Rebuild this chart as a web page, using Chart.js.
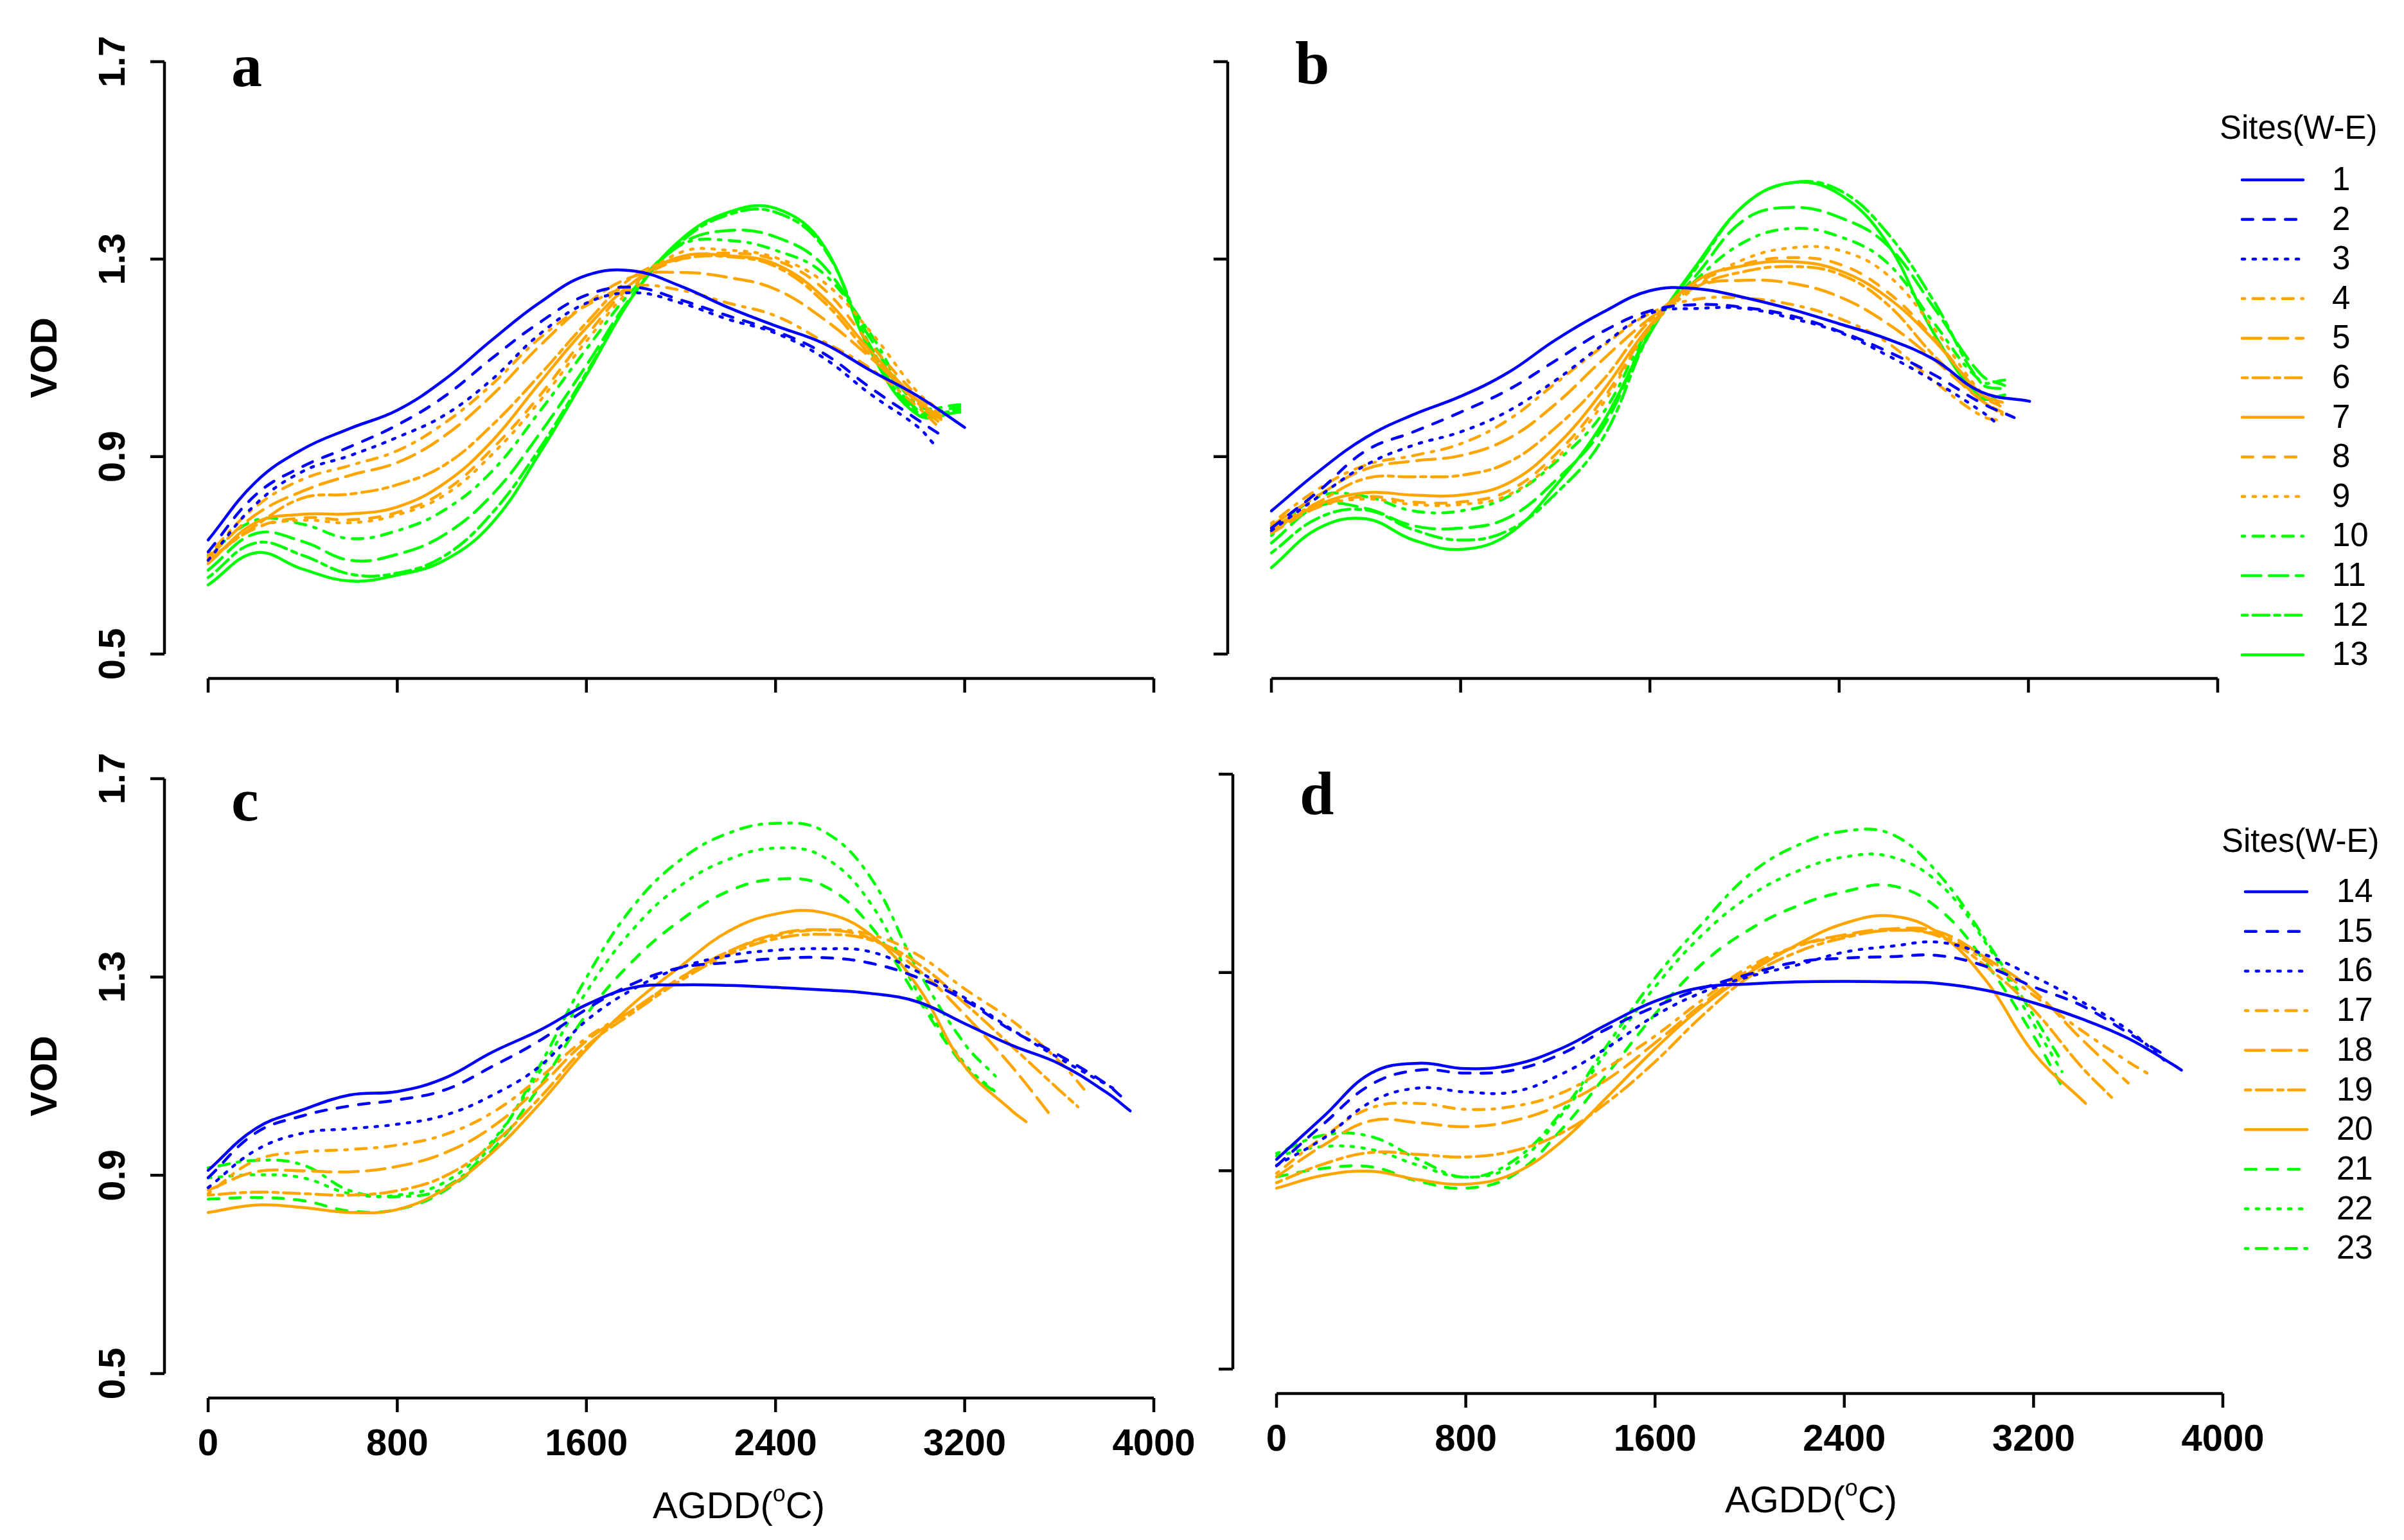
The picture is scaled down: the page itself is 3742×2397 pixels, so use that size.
<!DOCTYPE html>
<html>
<head>
<meta charset="utf-8">
<script src="https://cdn.jsdelivr.net/npm/chart.js@4.4.1/dist/chart.umd.min.js"></script>
<style>
  body { margin: 0; background: #fff; width: 3742px; height: 2397px; position: relative; overflow: hidden; }
  canvas { position: absolute; }
</style>
</head>
<body>
<canvas id="chart-a" width="1871" height="1130" style="left:0;top:0"></canvas>
<canvas id="chart-b" width="1871" height="1130" style="left:1871px;top:0"></canvas>
<canvas id="chart-c" width="1871" height="1267" style="left:0;top:1130px"></canvas>
<canvas id="chart-d" width="1871" height="1267" style="left:1871px;top:1130px"></canvas>
<script>
// AGDD sample points (every 200), the last value of each site sits at its own end AGDD
const agddGrid = [0, 200, 400, 600, 800, 1000, 1200, 1400, 1600, 1800, 2000, 2200, 2400, 2600, 2800, 3000, 3200, 3400, 3600, 3800]
const xTicks = [0, 800, 1600, 2400, 3200, 4000]
const yTicks = [0.5, 0.9, 1.3, 1.7]

const sitesAB = ['1', '2', '3', '4', '5', '6', '7', '8', '9', '10', '11', '12', '13']
const sitesCD = ['14', '15', '16', '17', '18', '19', '20', '21', '22', '23']

// panel a, sites 1-13
const vodA = [
	[0.731, 0.848, 0.915, 0.957, 0.994, 1.056, 1.136, 1.211, 1.267, 1.276, 1.245, 1.202, 1.165, 1.130, 1.075, 1.023, 0.959],
	[0.707, 0.822, 0.880, 0.920, 0.964, 1.022, 1.099, 1.171, 1.227, 1.243, 1.217, 1.185, 1.154, 1.110, 1.040, 0.975, 0.945],
	[0.690, 0.803, 0.870, 0.902, 0.939, 0.984, 1.056, 1.147, 1.211, 1.232, 1.211, 1.178, 1.150, 1.101, 1.027, 0.961, 0.928],
	[0.702, 0.798, 0.854, 0.882, 0.912, 0.968, 1.046, 1.139, 1.206, 1.245, 1.237, 1.211, 1.185, 1.134, 1.079, 1.001, 0.955],
	[0.696, 0.782, 0.830, 0.862, 0.888, 0.942, 1.024, 1.123, 1.209, 1.265, 1.273, 1.263, 1.239, 1.180, 1.101, 1.014, 0.975],
	[0.691, 0.760, 0.816, 0.824, 0.843, 0.883, 0.963, 1.064, 1.171, 1.265, 1.300, 1.305, 1.285, 1.215, 1.106, 1.009, 0.966],
	[0.683, 0.766, 0.783, 0.784, 0.798, 0.846, 0.931, 1.048, 1.161, 1.254, 1.305, 1.307, 1.290, 1.224, 1.115, 1.014, 0.979],
	[0.691, 0.755, 0.776, 0.772, 0.787, 0.830, 0.915, 1.022, 1.145, 1.250, 1.300, 1.312, 1.298, 1.241, 1.128, 1.023, 0.983],
	[0.688, 0.755, 0.771, 0.766, 0.782, 0.822, 0.904, 1.011, 1.134, 1.245, 1.314, 1.318, 1.303, 1.255, 1.154, 1.031, 0.992],
	[0.700, 0.771, 0.763, 0.734, 0.750, 0.792, 0.870, 0.990, 1.118, 1.240, 1.329, 1.338, 1.318, 1.272, 1.150, 1.005, 1.005],
	[0.670, 0.744, 0.728, 0.690, 0.702, 0.742, 0.822, 0.945, 1.085, 1.230, 1.330, 1.358, 1.345, 1.288, 1.140, 0.995, 1.000],
	[0.655, 0.725, 0.700, 0.662, 0.664, 0.699, 0.785, 0.915, 1.070, 1.228, 1.335, 1.390, 1.395, 1.325, 1.125, 0.990, 0.995],
	[0.640, 0.705, 0.672, 0.648, 0.660, 0.690, 0.765, 0.905, 1.065, 1.228, 1.340, 1.395, 1.403, 1.330, 1.115, 0.985, 0.990],
]
const endsA = [3200, 3095, 3065, 3100, 3100, 3100, 3100, 3100, 3100, 3180, 3180, 3180, 3180]

// panel b, sites 1-13
const vodB = [
	[0.790, 0.870, 0.939, 0.985, 1.022, 1.070, 1.136, 1.192, 1.236, 1.240, 1.222, 1.198, 1.169, 1.139, 1.097, 1.031, 1.012],
	[0.755, 0.830, 0.912, 0.950, 0.990, 1.035, 1.094, 1.153, 1.195, 1.208, 1.202, 1.185, 1.154, 1.114, 1.066, 1.009, 0.979],
	[0.750, 0.819, 0.883, 0.923, 0.950, 0.992, 1.054, 1.126, 1.190, 1.200, 1.200, 1.180, 1.152, 1.106, 1.053, 0.992, 0.962],
	[0.765, 0.835, 0.883, 0.902, 0.926, 0.974, 1.048, 1.123, 1.190, 1.219, 1.221, 1.208, 1.180, 1.132, 1.053, 0.983, 0.972],
	[0.760, 0.822, 0.875, 0.891, 0.902, 0.936, 1.006, 1.096, 1.180, 1.245, 1.257, 1.251, 1.224, 1.171, 1.097, 1.014, 0.990],
	[0.755, 0.808, 0.856, 0.859, 0.862, 0.888, 0.958, 1.054, 1.175, 1.245, 1.275, 1.285, 1.270, 1.210, 1.105, 1.015, 0.985],
	[0.750, 0.803, 0.827, 0.822, 0.822, 0.846, 0.920, 1.032, 1.165, 1.257, 1.287, 1.295, 1.277, 1.224, 1.136, 1.027, 1.010],
	[0.745, 0.798, 0.819, 0.808, 0.808, 0.830, 0.904, 1.016, 1.160, 1.250, 1.290, 1.303, 1.290, 1.235, 1.140, 1.025, 1.000],
	[0.745, 0.798, 0.814, 0.803, 0.803, 0.822, 0.894, 1.006, 1.160, 1.245, 1.300, 1.323, 1.318, 1.270, 1.160, 1.030, 1.005],
	[0.740, 0.819, 0.819, 0.790, 0.790, 0.819, 0.888, 0.987, 1.160, 1.260, 1.335, 1.362, 1.346, 1.294, 1.171, 1.053, 1.055],
	[0.725, 0.800, 0.795, 0.760, 0.755, 0.776, 0.851, 0.958, 1.155, 1.270, 1.380, 1.405, 1.385, 1.330, 1.202, 1.066, 1.044],
	[0.705, 0.776, 0.792, 0.752, 0.731, 0.750, 0.824, 0.936, 1.150, 1.285, 1.410, 1.455, 1.440, 1.355, 1.215, 1.049, 1.036],
	[0.675, 0.755, 0.774, 0.731, 0.712, 0.742, 0.840, 0.968, 1.150, 1.290, 1.410, 1.455, 1.432, 1.335, 1.150, 1.020, 1.025],
]
const endsB = [3205, 3140, 3080, 3090, 3090, 3090, 3090, 3090, 3090, 3100, 3100, 3100, 3100]

// panel c, sites 14-23
const vodC = [
	[0.910, 0.994, 1.032, 1.062, 1.069, 1.096, 1.148, 1.192, 1.244, 1.279, 1.284, 1.283, 1.279, 1.274, 1.267, 1.250, 1.206, 1.162, 1.125, 1.067, 1.030],
	[0.895, 0.985, 1.020, 1.040, 1.052, 1.072, 1.119, 1.171, 1.235, 1.287, 1.319, 1.329, 1.337, 1.339, 1.328, 1.299, 1.253, 1.192, 1.142, 1.084, 1.060],
	[0.875, 0.950, 0.985, 0.994, 1.003, 1.021, 1.061, 1.119, 1.212, 1.276, 1.319, 1.343, 1.354, 1.357, 1.351, 1.311, 1.258, 1.194, 1.136, 1.075],
	[0.863, 0.930, 0.947, 0.952, 0.961, 0.982, 1.026, 1.096, 1.177, 1.235, 1.299, 1.351, 1.383, 1.395, 1.386, 1.345, 1.276, 1.212, 1.130, 1.065],
	[0.870, 0.907, 0.909, 0.907, 0.918, 0.945, 0.997, 1.078, 1.171, 1.235, 1.299, 1.351, 1.386, 1.395, 1.378, 1.316, 1.224, 1.119, 1.020],
	[0.860, 0.866, 0.863, 0.860, 0.869, 0.898, 0.962, 1.055, 1.160, 1.229, 1.293, 1.345, 1.377, 1.386, 1.375, 1.328, 1.247, 1.160, 1.072, 1.038],
	[0.825, 0.840, 0.835, 0.825, 0.831, 0.872, 0.945, 1.043, 1.154, 1.247, 1.322, 1.392, 1.427, 1.430, 1.386, 1.282, 1.120, 1.030, 1.008],
	[0.852, 0.855, 0.849, 0.828, 0.831, 0.869, 0.950, 1.078, 1.224, 1.334, 1.415, 1.473, 1.497, 1.485, 1.404, 1.258, 1.119, 1.060],
	[0.895, 0.901, 0.895, 0.863, 0.860, 0.886, 0.968, 1.107, 1.270, 1.398, 1.485, 1.537, 1.560, 1.543, 1.450, 1.270, 1.125, 1.068],
	[0.915, 0.930, 0.921, 0.869, 0.857, 0.875, 0.962, 1.119, 1.299, 1.444, 1.537, 1.590, 1.610, 1.595, 1.502, 1.316, 1.165, 1.100],
]
const endsC = [3900, 3860, 3830, 3720, 3565, 3680, 3460, 3350, 3330, 3330]

// panel d, sites 14-23
const vodD = [
	[0.923, 1.010, 1.097, 1.117, 1.106, 1.114, 1.146, 1.196, 1.242, 1.270, 1.277, 1.281, 1.282, 1.281, 1.278, 1.264, 1.239, 1.207, 1.167, 1.111, 1.103],
	[0.910, 0.995, 1.074, 1.103, 1.097, 1.103, 1.135, 1.187, 1.231, 1.268, 1.297, 1.321, 1.329, 1.332, 1.334, 1.312, 1.271, 1.234, 1.178, 1.129],
	[0.911, 0.966, 1.039, 1.067, 1.059, 1.059, 1.094, 1.149, 1.213, 1.260, 1.292, 1.315, 1.341, 1.353, 1.361, 1.335, 1.292, 1.242, 1.184, 1.120],
	[0.895, 0.969, 1.027, 1.036, 1.024, 1.030, 1.056, 1.109, 1.172, 1.245, 1.312, 1.353, 1.373, 1.385, 1.376, 1.323, 1.254, 1.184, 1.120, 1.097],
	[0.888, 0.952, 1.001, 0.997, 0.989, 1.001, 1.033, 1.085, 1.158, 1.236, 1.306, 1.353, 1.376, 1.388, 1.382, 1.329, 1.263, 1.167, 1.077],
	[0.876, 0.914, 0.937, 0.933, 0.928, 0.940, 0.975, 1.039, 1.120, 1.213, 1.292, 1.341, 1.370, 1.385, 1.373, 1.312, 1.225, 1.111, 1.048],
	[0.865, 0.891, 0.899, 0.882, 0.873, 0.894, 0.957, 1.050, 1.146, 1.231, 1.300, 1.356, 1.399, 1.414, 1.379, 1.283, 1.138, 1.036],
	[0.888, 0.905, 0.908, 0.879, 0.865, 0.891, 0.981, 1.097, 1.216, 1.318, 1.387, 1.434, 1.463, 1.475, 1.428, 1.318, 1.172, 1.070],
	[0.930, 0.949, 0.943, 0.911, 0.887, 0.911, 1.010, 1.143, 1.271, 1.376, 1.454, 1.504, 1.533, 1.533, 1.480, 1.358, 1.196, 1.100],
	[0.935, 0.972, 0.969, 0.923, 0.887, 0.920, 1.016, 1.155, 1.289, 1.399, 1.498, 1.556, 1.585, 1.579, 1.498, 1.364, 1.213, 1.120],
]
const endsD = [3825, 3770, 3760, 3680, 3600, 3530, 3420, 3320, 3320, 3320]

// styles
const BLUE = '#0000ff', ORANGE = '#ffa500', GREEN = '#00ff00'
const colAB = [BLUE, BLUE, BLUE, ORANGE, ORANGE, ORANGE, ORANGE, ORANGE, ORANGE, GREEN, GREEN, GREEN, GREEN]
const colCD = [BLUE, BLUE, BLUE, ORANGE, ORANGE, ORANGE, ORANGE, GREEN, GREEN, GREEN]
const ltyAB = ['solid', 'dashed', 'dotted', 'dotdash', 'longdash', 'twodash', 'solid', 'dashed', 'dotted', 'dotdash', 'longdash', 'twodash', 'solid']
const ltyCD = ['solid', 'dashed', 'dotted', 'dotdash', 'longdash', 'twodash', 'solid', 'dashed', 'dotted', 'dotdash']

// R line types, unit u
const u = 4.2
const dashes = {
	solid: [],
	dashed: [4 * u, 4 * u],
	dotted: [1 * u, 3 * u],
	dotdash: [1 * u, 3 * u, 4 * u, 3 * u],
	longdash: [7 * u, 3 * u],
	twodash: [2 * u, 2 * u, 6 * u, 2 * u],
}
const LW = 4.5
const SANS = '"Liberation Sans", Arial, sans-serif'
const SERIF = '"Liberation Serif", "Times New Roman", serif'

let buildDatasets = (vals, ends, sites, cols, ltys) => vals.map((row, i) => ({
	label: sites[i],
	data: row.map((v, k) => ({ x: k < row.length - 1 ? agddGrid[k] : ends[i], y: v })),
	borderColor: cols[i],
	borderDash: dashes[ltys[i]],
	borderWidth: LW,
	borderCapStyle: 'round',
	borderJoinStyle: 'round',
	pointRadius: 0,
	tension: 0.4,
	fill: false,
	clip: false,
}))

// R like detached axes, labels, panel letter and legend
const rStyle = {
	id: 'rStyle',
	afterDraw(chart, args, o) {
		const { ctx } = chart
		const x = chart.scales.x, y = chart.scales.y
		ctx.save()
		ctx.strokeStyle = '#000'
		ctx.fillStyle = '#000'
		ctx.lineWidth = 4.5
		ctx.setLineDash([])

		const ax = x.left - 68
		const ay = y.bottom + 38
		ctx.beginPath()
		ctx.moveTo(ax, y.getPixelForValue(yTicks[0]))
		ctx.lineTo(ax, y.getPixelForValue(yTicks[yTicks.length - 1]))
		yTicks.forEach(t => {
			let p = y.getPixelForValue(t)
			ctx.moveTo(ax, p); ctx.lineTo(ax - 22, p)
		})
		ctx.moveTo(x.getPixelForValue(xTicks[0]), ay)
		ctx.lineTo(x.getPixelForValue(xTicks[xTicks.length - 1]), ay)
		xTicks.forEach(t => {
			let p = x.getPixelForValue(t)
			ctx.moveTo(p, ay); ctx.lineTo(p, ay + 22)
		})
		ctx.stroke()

		if (o.yLabels) {
			ctx.font = 'bold 58px ' + SANS
			ctx.textAlign = 'center'
			ctx.textBaseline = 'middle'
			yTicks.forEach(t => {
				ctx.save()
				ctx.translate(ax - 78, y.getPixelForValue(t))
				ctx.rotate(-Math.PI / 2)
				ctx.fillText(t.toFixed(1), 0, 0)
				ctx.restore()
			})
			ctx.save()
			ctx.translate(72, (y.top + y.bottom) / 2)
			ctx.rotate(-Math.PI / 2)
			ctx.fillText('VOD', 0, 0)
			ctx.restore()
		}

		if (o.xLabels) {
			ctx.font = 'bold 58px ' + SANS
			ctx.textAlign = 'center'
			ctx.textBaseline = 'middle'
			xTicks.forEach(t => ctx.fillText(String(t), x.getPixelForValue(t), ay + 73))

			// AGDD(°C) with superscript o
			let big = '58px ' + SANS, small = '36px ' + SANS
			ctx.textAlign = 'left'
			ctx.textBaseline = 'alphabetic'
			ctx.font = big
			let w1 = ctx.measureText('AGDD(').width, w3 = ctx.measureText('C)').width
			ctx.font = small
			let w2 = ctx.measureText('o').width
			let sx = o.xTitle[0] - (w1 + w2 + w3) / 2, base = o.xTitle[1] + 21
			ctx.font = big
			ctx.fillText('AGDD(', sx, base)
			ctx.font = small
			ctx.fillText('o', sx + w1, base - 26)
			ctx.font = big
			ctx.fillText('C)', sx + w1 + w2, base)
		}

		ctx.font = 'bold 96px ' + SERIF
		ctx.textAlign = 'left'
		ctx.textBaseline = 'alphabetic'
		ctx.fillText(o.letter[0], o.letter[1], o.letter[2])

		if (o.legend) {
			const L = o.legend
			ctx.font = '51px ' + SANS
			ctx.textBaseline = 'middle'
			ctx.fillText('Sites(W-E)', L.titleX, L.titleY)
			chart.data.datasets.forEach((ds, i) => {
				let ry = L.rowY + i * L.step
				ctx.save()
				ctx.strokeStyle = ds.borderColor
				ctx.lineWidth = LW
				ctx.lineCap = 'round'
				ctx.setLineDash(ds.borderDash)
				ctx.beginPath()
				ctx.moveTo(L.lineX0, ry); ctx.lineTo(L.lineX1, ry)
				ctx.stroke()
				ctx.restore()
				ctx.fillText(ds.label, L.textX, ry + 2)
			})
		}
		ctx.restore()
	}
}

let buildChart = (id, datasets, padding, styleOpts) => {
	return new Chart(document.getElementById(id), {
		type: 'line',
		data: { datasets },
		options: {
			responsive: false,
			animation: false,
			devicePixelRatio: 1,
			layout: { padding },
			scales: {
				x: { type: 'linear', min: 0, max: 4000, display: false },
				y: { type: 'linear', min: 0.5, max: 1.7, display: false },
			},
			plugins: {
				legend: { display: false },
				tooltip: { enabled: false },
				rStyle: styleOpts,
			},
		},
		plugins: [rStyle],
	})
}

buildChart('chart-a', buildDatasets(vodA, endsA, sitesAB, colAB, ltyAB),
	{ left: 324, right: 75, top: 96, bottom: 112 },
	{ yLabels: true, xLabels: false, letter: ['a', 360, 134] })

buildChart('chart-b', buildDatasets(vodB, endsB, sitesAB, colAB, ltyAB),
	{ left: 108, right: 290, top: 96, bottom: 112 },
	{ yLabels: false, xLabels: false, letter: ['b', 145, 130],
	  legend: { titleX: 1584, titleY: 202, rowY: 280, step: 61.6, lineX0: 1619, lineX1: 1714, textX: 1759 } })

buildChart('chart-c', buildDatasets(vodC, endsC, sitesCD, colCD, ltyCD),
	{ left: 324, right: 75, top: 82, bottom: 259 },
	{ yLabels: true, xLabels: true, xTitle: [1150, 1212], letter: ['c', 360, 147] })

buildChart('chart-d', buildDatasets(vodD, endsD, sitesCD, colCD, ltyCD),
	{ left: 116, right: 282, top: 75, bottom: 266 },
	{ yLabels: false, xLabels: true, xTitle: [948, 1203], letter: ['d', 152, 137],
	  legend: { titleX: 1587, titleY: 182, rowY: 258, step: 61.7, lineX0: 1624, lineX1: 1720, textX: 1766 } })
</script>
</body>
</html>
